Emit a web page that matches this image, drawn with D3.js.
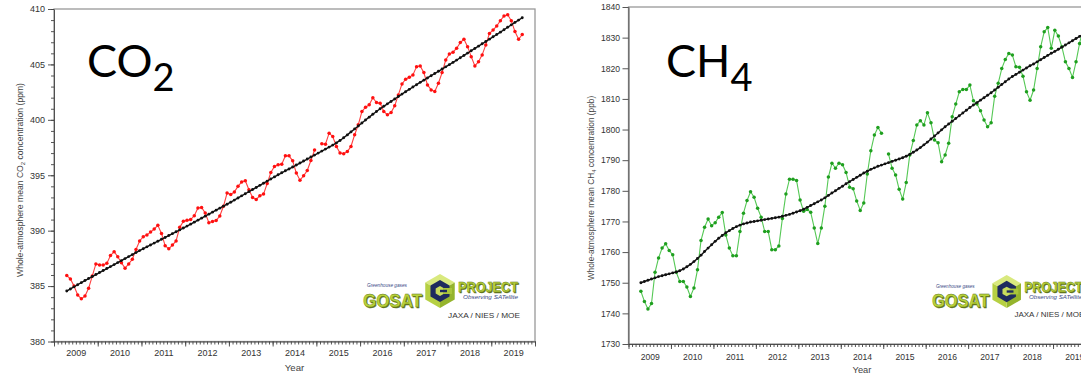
<!DOCTYPE html>
<html>
<head>
<meta charset="utf-8">
<script src="https://cdn.jsdelivr.net/npm/d3@7"></script>
<style>
  html, body { margin: 0; padding: 0; background: #fff; overflow: hidden; }
  svg { display: block; }
</style>
</head>
<body>
<svg id="chart" width="1081" height="375"></svg>
<script>
// Whole-atmosphere monthly means observed by GOSAT, first month April 2009.
const firstYear = 2009;
const firstMonthIndex = 3; // April (0 = January)
const yearLabels = [2009, 2010, 2011, 2012, 2013, 2014, 2015, 2016, 2017, 2018, 2019];

// CO2 (ppm): monthly mean (null = no data) and the deseasonalised trend
const co2Monthly = [
  385.95, 385.65, 385.00, 384.20, 383.85, 384.10, 384.80, 385.90, 387.00, 386.90, 386.90, 387.05,
  387.75, 388.10, 387.65, 387.10, 386.62, 387.00, 387.42, 388.30, 389.07, 389.45, 389.62, 389.87,
  390.15, 390.48, 389.75, 388.65, 388.36, 388.70, 389.07, 390.30, 390.84, 390.93, 391.00, 391.35,
  392.04, 392.10, 391.60, 390.72, 390.82, 390.92, 391.32, 392.20, 393.40, 393.26, 393.50, 394.00,
  394.40, 394.50, 393.70, 393.00, 392.82, 393.15, 393.30, 394.25, 395.25, 395.80, 395.95, 396.00,
  396.76, 396.75, 396.30, 395.20, 394.56, 394.95, 395.43, 396.33, 397.27, null, 397.84, 397.80,
  398.80, 398.50, 397.60, 397.00, 396.94, 397.14, 397.60, 398.65, 399.55, 400.75, 401.14, 401.35,
  402.00, 401.56, 401.50, 400.75, 400.45, 400.66, 401.26, 402.25, 403.24, 403.67, 403.85, 404.05,
  404.80, 404.86, 404.26, 403.15, 402.70, 402.55, 403.30, 404.26, 405.40, 405.95, 406.10, 406.46,
  406.97, 407.27, 406.60, 405.70, 404.86, 405.25, 405.86, 406.76, 407.80, 408.10, 408.47, 408.95,
  409.37, 409.49, 408.95, 407.96, 407.27, 407.70
];
const co2Trend = [
  384.55, 384.74, 384.93, 385.12, 385.31, 385.50, 385.68, 385.86, 386.04, 386.22, 386.40, 386.58,
  386.76, 386.94, 387.12, 387.30, 387.48, 387.66, 387.84, 388.02, 388.20, 388.37, 388.54, 388.71,
  388.88, 389.05, 389.22, 389.39, 389.56, 389.73, 389.90, 390.07, 390.24, 390.41, 390.59, 390.77,
  390.95, 391.13, 391.31, 391.49, 391.67, 391.85, 392.03, 392.21, 392.39, 392.57, 392.76, 392.95,
  393.14, 393.33, 393.52, 393.71, 393.90, 394.09, 394.28, 394.47, 394.66, 394.85, 395.04, 395.22,
  395.40, 395.57, 395.74, 395.92, 396.10, 396.28, 396.46, 396.64, 396.82, 397.00, 397.18, 397.36,
  397.54, 397.72, 397.92, 398.14, 398.38, 398.64, 398.91, 399.18, 399.45, 399.72, 399.98, 400.24,
  400.50, 400.75, 401.00, 401.22, 401.44, 401.66, 401.88, 402.10, 402.32, 402.54, 402.75, 402.96,
  403.17, 403.38, 403.58, 403.78, 403.98, 404.18, 404.38, 404.58, 404.78, 404.98, 405.18, 405.39,
  405.60, 405.81, 406.02, 406.23, 406.44, 406.65, 406.86, 407.07, 407.28, 407.49, 407.70, 407.91,
  408.13, 408.35, 408.57, 408.79, 409.00, 409.21
];

// CH4 (ppb): monthly mean (null = no data) and the deseasonalised trend
const ch4Monthly = [
  1747.2, 1743.9, 1741.4, 1743.2, 1753.4, 1758.1, 1761.3, 1762.7, 1760.5, 1759.1, 1753.4, 1750.4,
  1750.4, 1748.6, 1745.5, 1748.3, 1754.2, 1763.8, 1768.1, 1770.8, 1768.6, 1769.6, 1771.4, 1772.9,
  1765.6, 1761.3, 1758.8, 1758.8, 1766.7, 1772.7, 1776.8, 1779.7, 1777.9, 1774.3, 1771.4, 1766.7,
  1766.7, 1760.8, 1760.8, 1762.0, 1771.0, 1779.0, 1783.8, 1783.8, 1783.4, 1777.0, 1773.3, 1773.9,
  1773.0, 1767.9, 1762.8, 1767.9, 1775.0, 1784.5, 1789.0, 1787.4, 1789.0, 1788.5, 1786.0, 1781.2,
  1780.7, 1776.7, 1773.6, 1776.0, 1785.5, 1793.1, 1798.2, 1800.7, 1798.8, null, 1792.0, 1787.4,
  1785.2, 1780.5, 1777.3, 1782.7, 1791.7, 1796.4, 1801.5, 1802.9, 1801.5, 1805.5, 1802.2, 1796.6,
  1795.7, 1789.5, 1791.7, 1795.5, 1804.2, 1808.3, 1812.3, 1813.1, 1813.1, 1814.5, 1809.4, 1808.3,
  1806.1, 1803.1, 1800.9, 1802.2, 1810.9, 1815.1, 1819.9, 1822.9, 1824.8, 1824.3, 1820.5, 1820.3,
  1817.4, 1812.3, 1809.6, 1812.9, 1819.9, 1827.0, 1831.9, 1833.3, 1826.5, 1832.4, 1830.5, 1827.0,
  1822.1, 1819.9, 1817.0, 1822.1, 1828.1, 1833.0
];
const ch4Trend = [
  1750.0, 1750.4, 1750.8, 1751.2, 1751.6, 1752.0, 1752.3, 1752.6, 1752.9, 1753.2, 1753.5, 1753.9,
  1754.5, 1755.2, 1756.0, 1756.9, 1757.9, 1759.0, 1760.2, 1761.3, 1762.4, 1763.5, 1764.5, 1765.4,
  1766.3, 1767.0, 1767.7, 1768.3, 1768.8, 1769.2, 1769.5, 1769.8, 1770.0, 1770.2, 1770.4, 1770.6,
  1770.8, 1771.0, 1771.2, 1771.4, 1771.7, 1772.0, 1772.3, 1772.7, 1773.1, 1773.5, 1774.0, 1774.6,
  1775.2, 1775.8, 1776.4, 1777.0, 1777.7, 1778.5, 1779.3, 1780.0, 1780.8, 1781.5, 1782.3, 1783.0,
  1783.7, 1784.4, 1785.1, 1785.8, 1786.4, 1787.0, 1787.5, 1788.0, 1788.4, 1788.8, 1789.2, 1789.6,
  1790.0, 1790.4, 1790.8, 1791.3, 1791.9, 1792.6, 1793.3, 1794.1, 1795.0, 1795.9, 1796.9, 1797.9,
  1798.9, 1799.9, 1800.9, 1801.8, 1802.7, 1803.6, 1804.5, 1805.4, 1806.3, 1807.2, 1808.0, 1808.8,
  1809.6, 1810.4, 1811.2, 1812.0, 1812.9, 1813.8, 1814.7, 1815.6, 1816.5, 1817.3, 1818.0, 1818.7,
  1819.4, 1820.1, 1820.8, 1821.4, 1822.1, 1822.8, 1823.5, 1824.2, 1824.9, 1825.5, 1826.2, 1826.9,
  1827.6, 1828.3, 1829.0, 1829.7, 1830.4, 1831.1
];

const co2Ticks = [380, 385, 390, 395, 400, 405, 410];
const co2MinorTicks = d3.range(380, 411, 1);
const ch4Ticks = [1730, 1740, 1750, 1760, 1770, 1780, 1790, 1800, 1810, 1820, 1830, 1840];

const svg = d3.select('#chart');
const axisFont = '"Liberation Sans", Arial, Helvetica, sans-serif';

// decimal year at the middle of month i of a series
const monthToYear = i => firstYear + (firstMonthIndex + i + 0.5) / 12;

function drawLogo(parent, ox, oy, s) {
  const lg = parent.append('g').attr('transform', `translate(${ox},${oy}) scale(${s})`);
  const lime = '#b8d33a', limeDark = '#62761b', navy = '#1e2b5e', blueText = '#3a4a86';

  lg.append('text').attr('x', 4).attr('y', 12).attr('font-family', axisFont)
    .attr('font-size', 5.6).attr('font-style', 'italic').attr('fill', blueText)
    .attr('textLength', 40).attr('lengthAdjust', 'spacingAndGlyphs')
    .text('Greenhouse gases');

  // block lettering with a darker extrusion behind it
  [[1, 1, limeDark], [0, 0, lime]].forEach(([dx, dy, c]) => {
    lg.append('text').attr('x', dx).attr('y', 31.5 + dy).attr('font-family', axisFont)
      .attr('font-size', 19).attr('font-weight', 'bold')
      .attr('textLength', 59).attr('lengthAdjust', 'spacingAndGlyphs')
      .attr('fill', c).attr('stroke', limeDark).attr('stroke-width', 0.35).text('GOSAT');
    lg.append('text').attr('x', 95 + dx).attr('y', 16.5 + dy).attr('font-family', axisFont)
      .attr('font-size', 15.5).attr('font-weight', 'bold')
      .attr('textLength', 60).attr('lengthAdjust', 'spacingAndGlyphs')
      .attr('fill', c).attr('stroke', limeDark).attr('stroke-width', 0.3).text('PROJECT');
  });

  // hexagonal cube emblem
  const cx = 77, cy = 16, r = 17;
  const v = d3.range(6).map(k => {
    const a = -Math.PI / 2 + k * Math.PI / 3;
    return [cx + r * Math.cos(a), cy + r * Math.sin(a)];
  });
  const c0 = [cx, cy];
  const poly = pts => 'M' + pts.map(p => p.join(',')).join('L') + 'Z';
  lg.append('path').attr('d', poly([v[0], v[1], c0, v[5]])).attr('fill', '#d9e97e');
  lg.append('path').attr('d', poly([v[1], v[2], v[3], c0])).attr('fill', '#95b42c');
  lg.append('path').attr('d', poly([v[5], c0, v[3], v[4]])).attr('fill', '#b6d043');
  const hex = (rr) => poly(d3.range(6).map(k => {
    const a = -Math.PI / 2 + k * Math.PI / 3;
    return [cx + rr * Math.cos(a), cy + rr * Math.sin(a)];
  }));
  lg.append('path').attr('d', hex(11)).attr('fill', navy);
  lg.append('path').attr('d', hex(5)).attr('fill', '#c8dc5c');
  lg.append('rect').attr('x', cx + 3).attr('y', cy - 3).attr('width', 9).attr('height', 6).attr('fill', '#a9c53a');
  lg.append('rect').attr('x', cx).attr('y', cy - 1.2).attr('width', 7).attr('height', 2.4).attr('fill', navy);

  lg.append('text').attr('x', 100).attr('y', 23.5).attr('font-family', axisFont)
    .attr('font-size', 5.6).attr('font-style', 'italic').attr('fill', blueText)
    .attr('textLength', 55).attr('lengthAdjust', 'spacingAndGlyphs')
    .text('Observing SATellite');
  lg.append('text').attr('x', 85).attr('y', 42.5).attr('font-family', axisFont)
    .attr('font-size', 7.3).attr('fill', '#333')
    .attr('textLength', 72).attr('lengthAdjust', 'spacingAndGlyphs')
    .text('JAXA / NIES / MOE');
}

function drawPanel(cfg) {
  const g = svg.append('g');
  const x = d3.scaleLinear().domain([2009, 2020]).range([cfg.left, cfg.right]);
  const y = d3.scaleLinear().domain(cfg.yDomain).range([cfg.bottom, cfg.top]);

  // plot frame
  g.append('rect')
    .attr('x', cfg.left).attr('y', cfg.top)
    .attr('width', cfg.right - cfg.left).attr('height', cfg.bottom - cfg.top)
    .attr('fill', 'none').attr('stroke', '#999').attr('stroke-width', 1.3);

  // y axis
  g.append('g').attr('transform', `translate(${cfg.left},0)`)
    .call(d3.axisLeft(y).tickValues(cfg.yTicks).tickSize(6).tickSizeOuter(0)
      .tickPadding(cfg.yPad).tickFormat(d3.format('d')));
  if (cfg.yMinor) {
    g.append('g').attr('transform', `translate(${cfg.left},0)`)
      .call(d3.axisLeft(y).tickValues(cfg.yMinor).tickSize(3).tickSizeOuter(0).tickFormat(''))
      .call(a => a.select('.domain').remove());
  }

  // x axis: monthly ticks, longer ticks at year boundaries, year labels mid-year
  const monthTicks = d3.range(0, 11 * 12 + 1).map(k => 2009 + k / 12);
  g.append('g').attr('transform', `translate(0,${cfg.bottom})`)
    .call(d3.axisBottom(x).tickValues(monthTicks).tickSize(3).tickSizeOuter(0).tickFormat(''));
  g.append('g').attr('transform', `translate(0,${cfg.bottom})`)
    .call(d3.axisBottom(x).tickValues(d3.range(2009, 2021)).tickSize(5).tickSizeOuter(0).tickFormat(''))
    .call(a => a.select('.domain').remove());
  g.append('g').attr('transform', `translate(0,${cfg.bottom})`)
    .call(d3.axisBottom(x).tickValues(yearLabels.map(yy => yy + 0.5)).tickSize(0)
      .tickPadding(cfg.xPad).tickFormat(d => String(Math.floor(d))))
    .call(a => a.select('.domain').remove());

  g.selectAll('.domain, .tick line').attr('stroke', '#444').attr('stroke-width', 0.9);
  g.selectAll('.tick text').attr('font-family', axisFont).attr('font-size', cfg.tickFont).attr('fill', '#333');

  // axis titles
  const yt = g.append('text')
    .attr('transform', `translate(${cfg.yTitleX},${cfg.yTitleY}) rotate(-90)`)
    .attr('text-anchor', 'middle').attr('font-family', axisFont)
    .attr('font-size', cfg.titleFont).attr('fill', '#444');
  yt.append('tspan').text('Whole-atmosphere mean ' + cfg.gasBase);
  yt.append('tspan').attr('font-size', cfg.titleFont * 0.7).attr('dy', 1.5).text(cfg.gasSub);
  yt.append('tspan').attr('dy', -1.5).text(' concentration (' + cfg.unit + ')');

  g.append('text').attr('x', (cfg.left + cfg.right) / 2).attr('y', cfg.xTitleY)
    .attr('text-anchor', 'middle').attr('font-family', axisFont)
    .attr('font-size', cfg.titleFont + 1).attr('fill', '#444').text('Year');

  // large gas name
  const big = g.append('text').attr('x', cfg.nameX).attr('y', cfg.nameY)
    .attr('font-family', 'Lato, "Open Sans", sans-serif').attr('font-size', 45).attr('fill', '#000');
  big.append('tspan').text(cfg.gasBase);
  big.append('tspan').attr('font-size', 38).attr('dy', 13.5).text(cfg.gasSub);

  drawLogo(g, cfg.logoX, cfg.logoY, cfg.logoScale);

  // monthly series
  const pts = cfg.monthly.map((v, i) => ({ t: monthToYear(i), v }));
  const line = d3.line().defined(d => d.v != null).x(d => x(d.t)).y(d => y(d.v));
  g.append('path').datum(pts).attr('d', line)
    .attr('fill', 'none').attr('stroke', cfg.lineColor).attr('stroke-width', 1.1);
  g.append('g').selectAll('circle').data(pts.filter(d => d.v != null)).join('circle')
    .attr('cx', d => x(d.t)).attr('cy', d => y(d.v)).attr('r', 1.75).attr('fill', cfg.dotColor);

  // trend
  const tpts = cfg.trend.map((v, i) => ({ t: monthToYear(i), v }));
  g.append('path').datum(tpts).attr('d', line)
    .attr('fill', 'none').attr('stroke', '#111').attr('stroke-width', 1.4);
  g.append('g').selectAll('circle').data(tpts).join('circle')
    .attr('cx', d => x(d.t)).attr('cy', d => y(d.v)).attr('r', 1.45).attr('fill', '#111');
}

drawPanel({
  left: 54, right: 535, top: 9, bottom: 341.5,
  yDomain: [380, 410], yTicks: co2Ticks, yMinor: co2MinorTicks, yPad: 3, xPad: 8.5,
  tickFont: 9, titleFont: 8.6, yTitleX: 23, yTitleY: 180, xTitleY: 371,
  gasBase: 'CO', gasSub: '2', unit: 'ppm', nameX: 87, nameY: 77,
  logoX: 363, logoY: 275, logoScale: 1,
  monthly: co2Monthly, trend: co2Trend, lineColor: '#ff4040', dotColor: '#ff1010'
});

drawPanel({
  left: 628.5, right: 1095.5, top: 7, bottom: 344,
  yDomain: [1730, 1840], yTicks: ch4Ticks, yMinor: null, yPad: 2.5, xPad: 10,
  tickFont: 8.6, titleFont: 8.3, yTitleX: 594, yTitleY: 188, xTitleY: 373,
  gasBase: 'CH', gasSub: '4', unit: 'ppb', nameX: 666, nameY: 77,
  logoX: 932, logoY: 276, logoScale: 0.97,
  monthly: ch4Monthly, trend: ch4Trend, lineColor: '#55c855', dotColor: '#1f9f1f'
});
</script>
</body>
</html>
